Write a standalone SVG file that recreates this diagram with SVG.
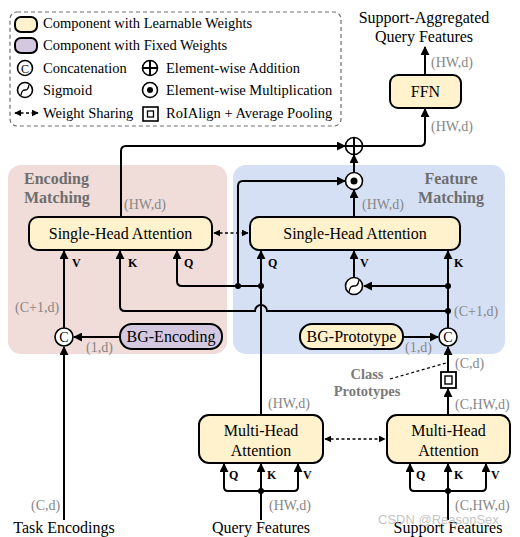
<svg xmlns="http://www.w3.org/2000/svg" width="520" height="537" viewBox="0 0 520 537" font-family="'Liberation Serif', serif">
<defs>
<marker id="ah" viewBox="0 0 10 10" refX="9" refY="5" markerWidth="9" markerHeight="9" markerUnits="userSpaceOnUse" orient="auto-start-reverse"><path d="M0,0 L10,5 L0,10 Z" fill="#000"/></marker>
<marker id="ahs" viewBox="0 0 10 10" refX="9" refY="5" markerWidth="7" markerHeight="7" markerUnits="userSpaceOnUse" orient="auto-start-reverse"><path d="M0,0 L10,5 L0,10 Z" fill="#000"/></marker>
</defs>
<style>
text{font-family:'Liberation Serif',serif;fill:#000}
.t{font-size:16px}
.lg{font-size:14.5px}
.g{font-size:14px;fill:#868686}
.qkv{font-size:12px;font-weight:bold}
.sec{font-size:16px;font-weight:bold;fill:#6e6e6e}
.cp{font-size:14.5px;font-weight:bold;fill:#7a7a7a}
.box{fill:#fff2cc;stroke:#000;stroke-width:2}
.pbox{fill:#d3c8e0;stroke:#000;stroke-width:2}
.c{fill:none;stroke:#000;stroke-width:2}
.a{fill:none;stroke:#000;stroke-width:2;marker-end:url(#ah)}
.d{fill:none;stroke:#000;stroke-width:1.3;stroke-dasharray:3,2.5;marker-start:url(#ahs);marker-end:url(#ahs)}
.op{fill:#fff;stroke:#000;stroke-width:1.6}
</style>
<rect width="520" height="537" fill="#fff"/>

<g id="legend">
<rect x="10" y="12" width="331" height="114" rx="7" fill="none" stroke="#6e6e6e" stroke-width="1.2" stroke-dasharray="4,3"/>
<rect x="15" y="17" width="22" height="15" rx="6" class="box" stroke-width="1.6"/>
<text x="43" y="28" class="lg">Component with Learnable Weights</text>
<rect x="15" y="38" width="22" height="15" rx="6" class="pbox" stroke-width="1.6"/>
<text x="43" y="50" class="lg">Component with Fixed Weights</text>
<circle cx="25" cy="68" r="7.5" class="op"/><text x="25" y="72.5" font-size="12" text-anchor="middle">C</text>
<text x="43" y="73" class="lg">Concatenation</text>
<circle cx="150" cy="68" r="7.5" class="op"/><path d="M142.5,68 H157.5 M150,60.5 V75.5" class="c" stroke-width="1.4"/>
<text x="166" y="73" class="lg">Element-wise Addition</text>
<circle cx="25" cy="90" r="7.5" class="op"/><path d="M21,95 C23,85 27,95 29,85" fill="none" stroke="#000" stroke-width="1.3"/>
<text x="43" y="95" class="lg">Sigmoid</text>
<circle cx="150" cy="90" r="7.5" class="op"/><circle cx="150" cy="90" r="3" fill="#000"/>
<text x="166" y="95" class="lg">Element-wise Multiplication</text>
<path d="M15,113 H38" class="d"/>
<text x="43" y="118" class="lg">Weight Sharing</text>
<rect x="143" y="107" width="15" height="14" fill="#fff" stroke="#000" stroke-width="1.6"/><rect x="147.5" y="111" width="6" height="6" fill="none" stroke="#000" stroke-width="1.3"/>
<text x="166" y="118" class="lg">RoIAlign + Average Pooling</text>
</g>

<g id="encoding-matching">
<rect x="8" y="165" width="219" height="189" rx="13" fill="#f0dcd8"/>
<text x="24" y="184" class="sec">Encoding</text>
<text x="24" y="203" class="sec">Matching</text>
</g>
<g id="feature-matching">
<rect x="233" y="165" width="272" height="189" rx="13" fill="#d6e0f5"/>
<text x="451" y="184" class="sec" text-anchor="middle">Feature</text>
<text x="451" y="203" class="sec" text-anchor="middle">Matching</text>
</g>

<g id="connectors">
<path d="M64,520 V347" class="a"/>
<path d="M64,328 V251" class="a"/>
<path d="M120,337 H74" class="a"/>
<path d="M121,217 V151 Q121,146 126,146 H345" class="a"/>
<path d="M362,146 H420 Q425,146 425,141 V109" class="a"/>
<path d="M425,75 V47" class="a"/>
<path d="M354,217 V190" class="a"/>
<path d="M354,173 V155" class="a"/>
<path d="M238,286 V186 Q238,181 243,181 H345" class="a"/>
<path d="M261,415 V251" class="a"/>
<path d="M261,286 H182 Q177,286 177,281 V251" class="a"/>
<path d="M448,311 H267 A6,6 0 0 0 255,311 H125 Q120,311 120,306 V251" class="a"/>
<path d="M448,286 H364" class="a"/>
<path d="M354,278 V251" class="a"/>
<path d="M448,328 V251" class="a"/>
<path d="M403,337 H438" class="a"/>
<path d="M448,372 V347" class="a"/>
<path d="M448,415 V389" class="a"/>
<path d="M261,520 V464" class="a"/>
<path d="M261,491 H228 Q224,491 224,487 V464" class="a"/>
<path d="M261,491 H294 Q298,491 298,487 V464" class="a"/>
<path d="M448,520 V464" class="a"/>
<path d="M448,491 H414 Q410,491 410,487 V464" class="a"/>
<path d="M448,491 H482 Q486,491 486,487 V464" class="a"/>
<path d="M214,233 H248" class="d"/>
<path d="M325,439 H385" class="d"/>
<path d="M390,379 L446,363" fill="none" stroke="#000" stroke-width="1.2" stroke-dasharray="3,2.5"/>
<circle cx="238" cy="286" r="3" fill="#000"/>
<circle cx="261" cy="286" r="3" fill="#000"/>
<circle cx="448" cy="286" r="3" fill="#000"/>
<circle cx="448" cy="311" r="3" fill="#000"/>
<circle cx="261" cy="491" r="3" fill="#000"/>
<circle cx="448" cy="491" r="3" fill="#000"/>
</g>

<g id="ops">
<g id="add"><circle cx="354" cy="146" r="8.5" class="op"/><path d="M345.5,146 H362.5 M354,137.5 V154.5" class="c" stroke-width="1.6"/></g>
<g id="mul"><circle cx="354" cy="181" r="8.5" class="op"/><circle cx="354" cy="181" r="3.5" fill="#000"/></g>
<g id="sigmoid"><circle cx="354" cy="286" r="8.5" class="op"/><path d="M349,292 C351,280 357,292 359,280" fill="none" stroke="#000" stroke-width="1.4"/></g>
<g id="concat-left"><circle cx="64" cy="337" r="9" class="op"/><text x="64" y="342" font-size="14" text-anchor="middle">C</text></g>
<g id="concat-right"><circle cx="448" cy="337" r="9" class="op"/><text x="448" y="342" font-size="14" text-anchor="middle">C</text></g>
<g id="roialign"><rect x="441" y="372" width="15" height="16" fill="#fff" stroke="#000" stroke-width="1.8"/><rect x="445" y="376" width="7" height="8" fill="none" stroke="#000" stroke-width="1.4"/></g>
</g>

<g id="ffn"><rect x="390" y="75" width="71" height="33" rx="8" class="box"/><text x="425.5" y="97" class="t" text-anchor="middle">FFN</text></g>
<g id="sha-left"><rect x="29" y="217" width="183" height="33" rx="9" class="box"/><text x="120.5" y="239" class="t" text-anchor="middle">Single-Head Attention</text></g>
<g id="sha-right"><rect x="250" y="217" width="210" height="33" rx="9" class="box"/><text x="355" y="239" class="t" text-anchor="middle">Single-Head Attention</text></g>
<g id="bg-encoding"><rect x="120" y="324" width="102" height="25" rx="12" class="pbox"/><text x="171" y="342" class="t" text-anchor="middle">BG-Encoding</text></g>
<g id="bg-prototype"><rect x="300" y="324" width="103" height="25" rx="12" class="box"/><text x="351.5" y="342" class="t" text-anchor="middle">BG-Prototype</text></g>
<g id="mha-left"><rect x="199" y="415" width="124" height="48" rx="10" class="box"/><text x="261" y="436" class="t" text-anchor="middle">Multi-Head</text><text x="261" y="456" class="t" text-anchor="middle">Attention</text></g>
<g id="mha-right"><rect x="387" y="415" width="123" height="48" rx="10" class="box"/><text x="448.5" y="436" class="t" text-anchor="middle">Multi-Head</text><text x="448.5" y="456" class="t" text-anchor="middle">Attention</text></g>

<g id="labels">
<text x="424" y="23" class="t" text-anchor="middle">Support-Aggregated</text>
<text x="424" y="42" class="t" text-anchor="middle">Query Features</text>
<text x="431" y="67" class="g">(HW,d)</text>
<text x="431" y="131" class="g">(HW,d)</text>
<text x="362" y="209" class="g">(HW,d)</text>
<text x="124" y="209" class="g">(HW,d)</text>
<text x="72" y="267" class="qkv">V</text>
<text x="128" y="267" class="qkv">K</text>
<text x="184" y="267" class="qkv">Q</text>
<text x="268" y="267" class="qkv">Q</text>
<text x="360" y="267" class="qkv">V</text>
<text x="454" y="267" class="qkv">K</text>
<text x="15" y="312" class="g">(C+1,d)</text>
<text x="454" y="316" class="g">(C+1,d)</text>
<text x="86" y="352" class="g">(1,d)</text>
<text x="405" y="352" class="g">(1,d)</text>
<text x="455" y="368" class="g">(C,d)</text>
<text x="455" y="409" class="g">(C,HW,d)</text>
<text x="268" y="408" class="g">(HW,d)</text>
<text x="367" y="379" class="cp" text-anchor="middle">Class</text>
<text x="367" y="396" class="cp" text-anchor="middle">Prototypes</text>
<text x="229" y="479" class="qkv">Q</text>
<text x="267" y="479" class="qkv">K</text>
<text x="303" y="479" class="qkv">V</text>
<text x="416" y="479" class="qkv">Q</text>
<text x="454" y="479" class="qkv">K</text>
<text x="491" y="479" class="qkv">V</text>
<text x="31" y="510" class="g">(C,d)</text>
<text x="269" y="510" class="g">(HW,d)</text>
<text x="455" y="510" class="g">(C,HW,d)</text>
<text x="64" y="533" class="t" text-anchor="middle">Task Encodings</text>
<text x="261" y="533" class="t" text-anchor="middle">Query Features</text>
<text x="448" y="533" class="t" text-anchor="middle">Support Features</text>
<text x="378" y="524" font-size="13" style="fill:#b4b4b4;font-family:'Liberation Sans',Arial,sans-serif" fill-opacity="0.8">CSDN @ReasonSex</text>
</g>
</svg>
